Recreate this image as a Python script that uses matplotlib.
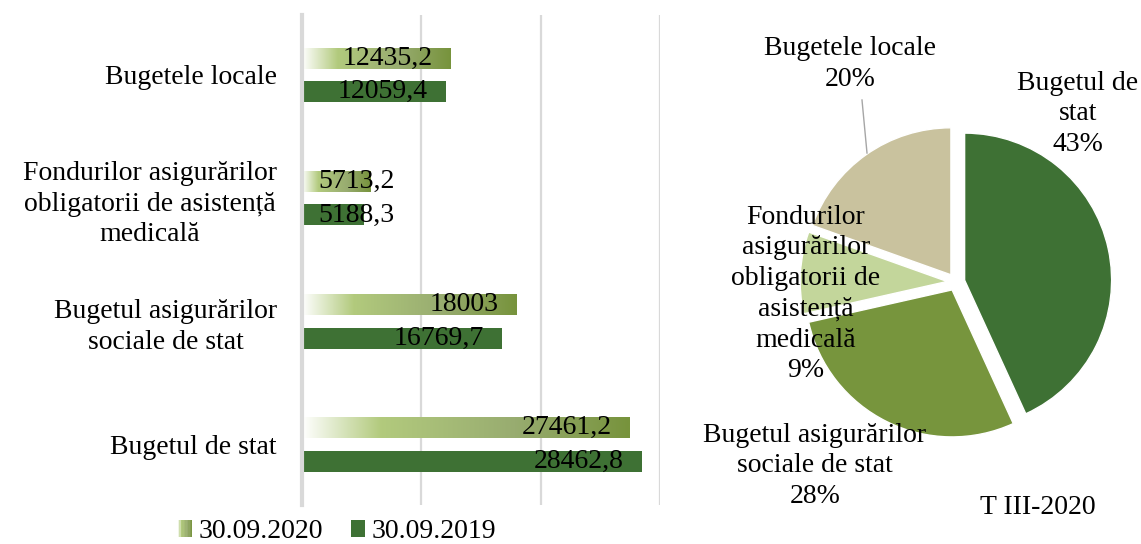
import matplotlib
matplotlib.use("Agg")
import matplotlib.pyplot as plt
import numpy as np
from matplotlib.colors import LinearSegmentedColormap
from matplotlib.legend_handler import HandlerBase
from matplotlib.patches import Rectangle

# --- data ---
categories = ["Bugetele locale",
              "Fondurilor asigurărilor\nobligatorii de asistență\nmedicală",
              "Bugetul asigurărilor\nsociale de stat",
              "Bugetul de stat"]
vals_2020 = [12435.2, 5713.2, 18003.0, 27461.2]
vals_2019 = [12059.4, 5188.3, 16769.7, 28462.8]
labels_2020 = ["12435,2", "5713,2", "18003", "27461,2"]
labels_2019 = ["12059,4", "5188,3", "16769,7", "28462,8"]
series_names = ["30.09.2020", "30.09.2019"]

pie_names = ["Bugetul de\nstat",
             "Bugetul asigurărilor\nsociale de stat",
             "Fondurilor\nasigurărilor\nobligatorii de\nasistență\nmedicală",
             "Bugetele locale"]
pie_vals = [27461.2, 18003.0, 5713.2, 12435.2]
pie_title = "T III-2020"

plt.rcParams['font.family'] = ['Liberation Serif', 'DejaVu Serif']
FS = 20
LS = 1.3

dark = '#3e7134'
grad_cmap = LinearSegmentedColormap.from_list(
    "g", [(0, '#ffffff'), (0.24, '#b2ca7d'), (0.65, '#98ac70'), (1, '#77933c')])

fig = plt.figure(figsize=(11.41, 5.44), dpi=100)
W, H = 1141, 544

# ---------------- bar chart ----------------
ax = fig.add_axes([302 / W, 1 - 505 / H, (660 - 302) / W, (505 - 15) / H])
y = np.arange(len(categories))
h = 0.17
off = 0.136

for yi, v in zip(y, vals_2020):
    grad = np.linspace(0, 1, 256).reshape(1, -1)
    ax.imshow(grad, cmap=grad_cmap, extent=(0, v, yi - off + h / 2, yi - off - h / 2),
              aspect='auto', interpolation='bilinear', zorder=2)
ax.barh(y + off, vals_2019, height=h, color=dark, zorder=2)


def put_labels(vals, labs, dy):
    for yi, v, lab in zip(y, vals, labs):
        if v < 8000:
            ax.annotate(lab, (0, yi + dy), xytext=(11.5, 0), textcoords='offset points',
                        ha='left', va='center', fontsize=FS, zorder=3)
        else:
            ax.annotate(lab, (v, yi + dy), xytext=(-13, 0), textcoords='offset points',
                        ha='right', va='center', fontsize=FS, zorder=3)


put_labels(vals_2020, labels_2020, -off)
put_labels(vals_2019, labels_2019, off)

ax.set_xlim(0, 30000)
ax.set_ylim(3.491, -0.487)
ax.set_xticks([0, 10000, 20000, 30000])
ax.set_xticklabels([])
ax.tick_params(axis='x', length=0)
ax.grid(axis='x', color='#d9d9d9', lw=1.6, zorder=0)
ax.set_axisbelow(True)
ax.set_yticks(y)
ax.set_yticklabels(categories, fontsize=FS, linespacing=LS)
for t in ax.get_yticklabels():
    t.set_multialignment('center')
ax.tick_params(axis='y', length=0, pad=18)
for s in ['top', 'right', 'bottom']:
    ax.spines[s].set_visible(False)
ax.spines['left'].set_color('#d9d9d9')
ax.spines['left'].set_linewidth(3)


class GradientHandler(HandlerBase):
    def create_artists(self, legend, orig_handle, xdescent, ydescent, width, height,
                       fontsize, trans):
        n = 10
        return [Rectangle((-xdescent + i * width / n, -ydescent), width / n, height,
                          facecolor=grad_cmap((i + 0.5) / n), edgecolor='none',
                          transform=trans) for i in range(n)]


proxy_grad = Rectangle((0, 0), 1, 1)
proxy_dark = Rectangle((0, 0), 1, 1, facecolor=dark)
fig.legend([proxy_grad, proxy_dark], series_names, loc='center',
           bbox_to_anchor=(337 / W, 1 - 532 / H), ncol=2, frameon=False,
           fontsize=FS, handlelength=0.52, handleheight=0.55, handletextpad=0.22,
           columnspacing=1.0, handler_map={proxy_grad: GradientHandler()})

# ---------------- pie chart ----------------
R = 147
cx, cy = 956, 282
pax = fig.add_axes([680 / W, 0, (W - 680) / W, 1])
pie_colors = [dark, '#77953d', '#c3d69b', '#c9c29e']
pax.pie(pie_vals, colors=pie_colors, startangle=90, counterclock=False,
        explode=[0.06] * 4, wedgeprops=dict(edgecolor='white', linewidth=1))
pax.set_xlim((680 - cx) / R, (W - cx) / R)
pax.set_ylim((cy - H) / R, cy / R)
pax.set_aspect('auto')
pax.axis('off')

total = sum(pie_vals)
pct = [round(v / total * 100) for v in pie_vals]
pie_pos = [(1078, 114), (815, 466), (806, 294), (850, 64)]
for name, p, (px, py) in zip(pie_names, pct, pie_pos):
    pax.text((px - cx) / R, (cy - py) / R, f"{name}\n{p}%", ha='center', va='center',
             fontsize=FS, linespacing=LS)
pax.plot([(862 - cx) / R, (867 - cx) / R], [(cy - 100) / R, (cy - 153) / R],
         color='#a6a6a6', lw=1)
pax.text((1038 - cx) / R, (cy - 508) / R, pie_title, ha='center', va='center', fontsize=FS)

fig.savefig("out.png", dpi=100)
